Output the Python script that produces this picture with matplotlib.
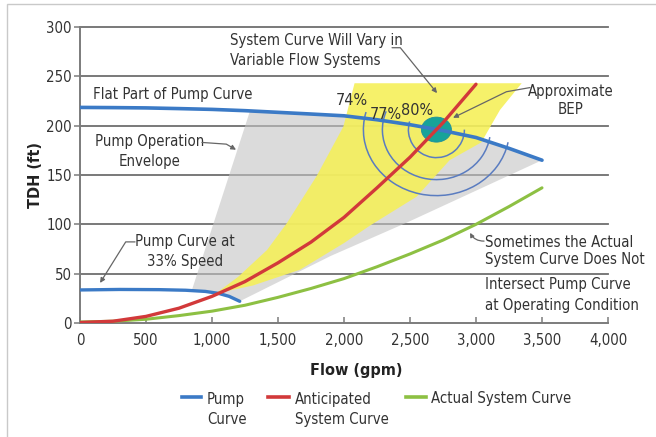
import matplotlib
matplotlib.use("Agg")
import matplotlib.pyplot as plt
from matplotlib import font_manager as fm
from matplotlib.patches import Polygon, Ellipse, Arc, Rectangle
from matplotlib.lines import Line2D
from matplotlib.transforms import ScaledTranslation

# ---------------- data ----------------
pump_flow = [0, 250, 500, 750, 1000, 1250, 1500, 1750, 2000, 2250, 2500, 2750, 3000, 3250, 3500]
pump_head = [218.5, 218.3, 218, 217.3, 216.5, 215.2, 213.5, 211.8, 210, 206, 201, 195, 188, 177, 165]

pump33_flow = [0, 300, 600, 800, 950, 1050, 1130, 1210]
pump33_head = [33.5, 34, 33.8, 33.2, 32, 30, 27, 22]

antic_flow = [0, 250, 500, 750, 1000, 1250, 1500, 1750, 2000, 2250, 2500, 2750, 3000]
antic_head = [0.5, 1.8, 6.7, 15, 27, 42, 61, 82, 107, 137, 168, 203, 242]

actual_flow = [0, 250, 500, 750, 1000, 1250, 1500, 1750, 2000, 2250, 2500, 2750, 3000, 3250, 3500]
actual_head = [1, 1.8, 3.8, 7.5, 12, 18, 26, 35, 45, 57, 70, 84, 100, 118, 137]

# pump operation envelope (grey) outline
env_flow = [848, 1288, 1500, 1750, 2000, 2250, 2500, 2750, 3000, 3250, 3500, 2480, 1900, 1210, 1130, 1050, 950]
env_head = [33.5, 215, 213.5, 211.8, 210, 206, 201, 195, 188, 177, 165, 102, 68, 22, 27, 30, 32]

# variable-flow system curve band (yellow) outline
band_flow = [1030, 1200, 1417, 1566, 1793, 1995, 2080, 3346, 3182, 3040, 2800, 2550, 2200, 2000, 1667, 1310]
band_head = [30, 47, 74, 101, 149, 199, 243, 243, 216, 183, 165, 128, 99, 81, 54, 38]

bep_flow, bep_head = 2700, 196
eff_labels = ["74%", "77%", "80%"]
eff_label_flow = [2061, 2318, 2553]
eff_label_head = [226, 211, 215]

x_ticks = [0, 500, 1000, 1500, 2000, 2500, 3000, 3500, 4000]
x_tick_labels = ["0", "500", "1,000", "1,500", "2,000", "2,500", "3,000", "3,500", "4,000"]
y_ticks = [0, 50, 100, 150, 200, 250, 300]

# ---------------- font selection ----------------
names = {f.name for f in fm.fontManager.ttflist}
FONT, STRETCH, SCALE = "Liberation Sans", "normal", 0.88
if "Liberation Sans Narrow" in names:
    FONT, STRETCH, SCALE = "Liberation Sans Narrow", "normal", 1.0
elif any(f.name == "DejaVu Sans" and f.stretch not in ("normal", 500) for f in fm.fontManager.ttflist):
    FONT, STRETCH, SCALE = "DejaVu Sans", "condensed", 0.86
plt.rcParams["font.family"] = [FONT, "DejaVu Sans"]
plt.rcParams["font.stretch"] = STRETCH

FS = 12.5 * SCALE
TXT = "#333333"
ARR = "#666666"

W, H = 656, 437
fig = plt.figure(figsize=(W / 100, H / 100), dpi=100)
fig.patch.set_facecolor("white")

def fx(px):
    return px / W

def fy(py):
    return 1 - py / H

ax = fig.add_axes([fx(80), fy(323), fx(608) - fx(80), fy(27) - fy(323)])
ax.set_xlim(0, 4000)
ax.set_ylim(0, 300)
ax.set_facecolor("none")

# outer frame
fig.add_artist(Rectangle((fx(7), -0.1), 1.2, fy(4) + 0.1, transform=fig.transFigure,
                         fill=False, ec="#c9c9c9", lw=1.0))

# grid
for yv in y_ticks[1:]:
    ax.axhline(yv, color="#6e6e6e", lw=1.3, zorder=0.5, clip_on=False)

# fills
ax.add_patch(Polygon(list(zip(env_flow, env_head)), closed=True, fc="#c4c4c4", ec="none",
                     alpha=0.6, zorder=1))
ax.add_patch(Polygon(list(zip(band_flow, band_head)), closed=True, fc="#f5f05a", ec="none",
                     alpha=0.9, zorder=1.5))

# efficiency arcs (pixel-sized around BEP)
ctr = fig.dpi_scale_trans + ScaledTranslation(bep_flow, bep_head, ax.transData)
arc_specs = [(0.28, 0.28, 163, 360), (0.54, 0.50, 160, 352), (0.73, 0.66, 166, 350)]
for rx, ry, t1, t2 in arc_specs:
    ax.add_patch(Arc((0, 0), 2 * rx, 2 * ry, theta1=t1, theta2=t2, transform=ctr,
                     color="#5a7cc0", lw=1.1, zorder=2))
ax.add_patch(Ellipse((0, 0), 0.30, 0.25, transform=ctr, fc="#17a399", ec="#1f8f9c",
                     lw=0.6, zorder=2.5))

# curves
ax.plot(actual_flow, actual_head, color="#8dc043", lw=2.2, zorder=3, solid_capstyle="round")
ax.plot(pump33_flow, pump33_head, color="#3b7ac6", lw=2.4, zorder=3.1, solid_capstyle="round")
ax.plot(pump_flow, pump_head, color="#3b7ac6", lw=2.6, zorder=3.1, solid_capstyle="round")
ax.plot(antic_flow, antic_head, color="#d2393a", lw=2.4, zorder=3.2, solid_capstyle="round")

for lab, xf, yh in zip(eff_labels, eff_label_flow, eff_label_head):
    ax.text(xf, yh, lab, fontsize=13.5 * SCALE, color=TXT, ha="center", va="center", zorder=4)

# spines / ticks
for s in ["top", "right"]:
    ax.spines[s].set_visible(False)
for s in ["left", "bottom"]:
    ax.spines[s].set_color("#7c7c7c")
    ax.spines[s].set_linewidth(1.4)
ax.set_xticks(x_ticks)
ax.set_xticklabels(x_tick_labels)
ax.set_yticks(y_ticks)
ax.tick_params(axis="x", direction="in", length=4, width=1.1, color="#7c7c7c",
               labelsize=FS, labelcolor=TXT, pad=7)
ax.tick_params(axis="y", direction="out", length=4, width=1.1, color="#7c7c7c",
               labelsize=FS, labelcolor=TXT, pad=2)

ax.set_ylabel("TDH (ft)", fontsize=13.5 * SCALE, fontweight="bold", color="#222222", labelpad=2)
fig.text(fx(356), fy(370), "Flow (gpm)", fontsize=13.5 * SCALE, fontweight="bold",
         color="#222222", ha="center", va="center")

# annotations
LS = 1.4
ax.text(98, 231.5, "Flat Part of Pump Curve", fontsize=FS, color=TXT, ha="left", va="center")

ax.text(1136, 276.5, "System Curve Will Vary in\nVariable Flow Systems", fontsize=FS, color=TXT,
        ha="left", va="center", linespacing=LS)
ax.annotate("", xy=(2705, 233), xytext=(2364, 279),
            arrowprops=dict(arrowstyle="-|>", color=ARR, lw=0.9, mutation_scale=7,
                            shrinkA=0, shrinkB=0,
                            connectionstyle="angle,angleA=0,angleB=-51,rad=0"))

ax.text(3720, 225.4, "Approximate\nBEP", fontsize=FS, color=TXT, ha="center", va="center",
        linespacing=1.3, multialignment="center")
ax.annotate("", xy=(2826, 208), xytext=(3409, 238.6),
            arrowprops=dict(arrowstyle="-|>", color=ARR, lw=0.9, mutation_scale=7,
                            shrinkA=0, shrinkB=0,
                            connectionstyle="angle,angleA=190,angleB=26,rad=0"))

ax.text(530, 173.6, "Pump Operation\nEnvelope", fontsize=FS, color=TXT, ha="center",
        va="center", linespacing=1.45, multialignment="center")
ax.annotate("", xy=(1182, 175.6), xytext=(924, 183),
            arrowprops=dict(arrowstyle="-|>", color=ARR, lw=0.9, mutation_scale=7,
                            shrinkA=0, shrinkB=0,
                            connectionstyle="angle,angleA=-4,angleB=-30,rad=0"))

ax.text(795, 72.6, "Pump Curve at\n33% Speed", fontsize=FS, color=TXT, ha="center",
        va="center", linespacing=LS, multialignment="center")
ax.annotate("", xy=(152, 40.6), xytext=(417, 82.2),
            arrowprops=dict(arrowstyle="-|>", color=ARR, lw=0.9, mutation_scale=7,
                            shrinkA=0, shrinkB=0,
                            connectionstyle="angle,angleA=180,angleB=58,rad=0"))

ax.text(3068, 73, "Sometimes the Actual\nSystem Curve Does Not", fontsize=FS, color=TXT,
        ha="left", va="center", linespacing=1.15)
ax.text(3068, 28, "Intersect Pump Curve\nat Operating Condition", fontsize=FS, color=TXT,
        ha="left", va="center", linespacing=1.5)
ax.annotate("", xy=(2955, 91.4), xytext=(3061, 83),
            arrowprops=dict(arrowstyle="-|>", color=ARR, lw=0.9, mutation_scale=6,
                            shrinkA=0, shrinkB=0, connectionstyle="arc3,rad=-0.3"))

# legend (manual); baseline of the last line is used for alignment
legend_items = [("Pump\nCurve", "#3b7ac6", 182, 201, 207),
                ("Anticipated\nSystem Curve", "#d2393a", 268, 289, 295),
                ("Actual System Curve", "#8dc043", 406, 426, 431)]
for lab, col, x1, x2, xt in legend_items:
    fig.add_artist(Line2D([fx(x1), fx(x2)], [fy(397), fy(397)], transform=fig.transFigure,
                          color=col, lw=2.6))
    nlines = lab.count("\n")
    fig.text(fx(xt), fy(403 + 21 * nlines), lab, fontsize=FS, color=TXT, ha="left",
             va="baseline", linespacing=LS)

fig.savefig("out.png", dpi=100, facecolor="white")
